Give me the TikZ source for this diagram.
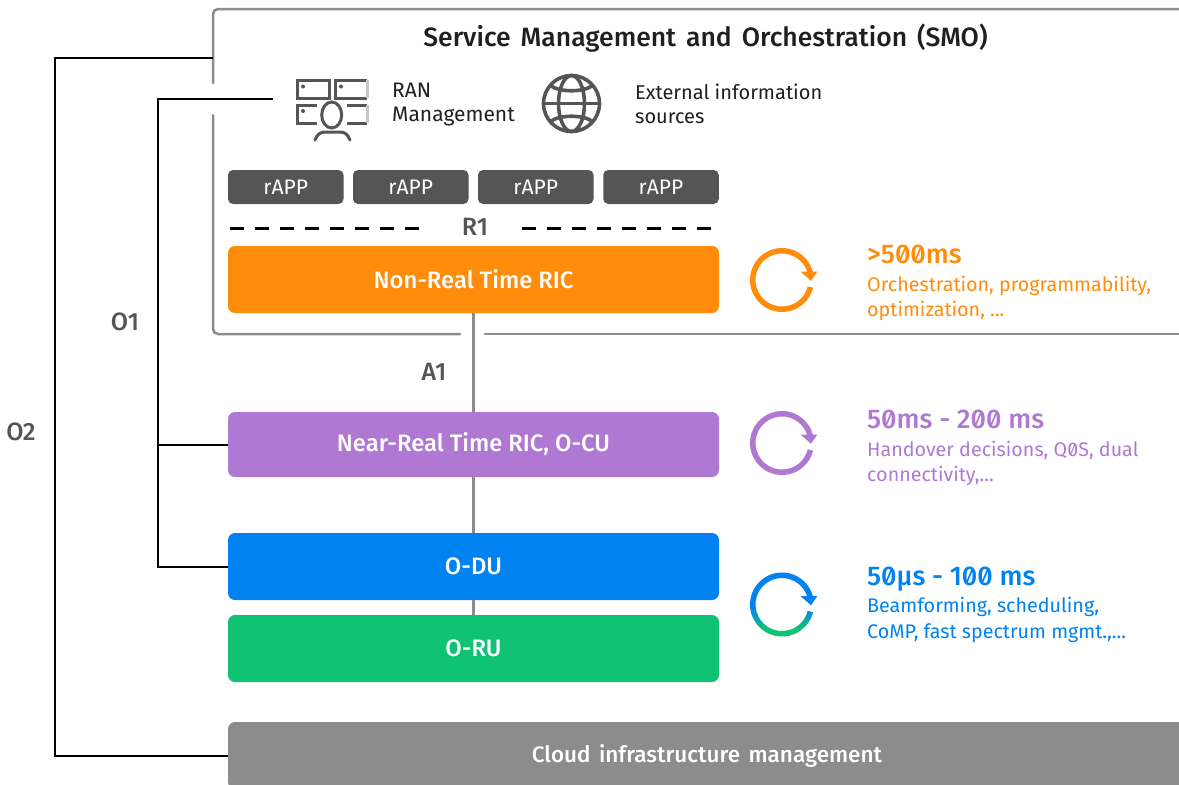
\documentclass[tikz,border=0pt]{standalone}
\usepackage{fontspec}
\setmainfont{Fira Sans Light}[BoldFont={Fira Sans Medium}]
\newfontfamily\medf{Fira Sans Medium}[RawFeature=+zero]
\newfontfamily\widef{Fira Sans Medium}[WordSpace=1.5]
\newfontfamily\regf{Fira Sans}[RawFeature=+zero]
\definecolor{corange}{HTML}{FF8C0A}
\definecolor{cpurple}{HTML}{AF78D2}
\definecolor{cblue}{HTML}{0082F0}
\definecolor{cgreen}{HTML}{0FC373}
\definecolor{cgray}{HTML}{8C8C8C}
\definecolor{cdark}{HTML}{555555}
\definecolor{ctext}{HTML}{1F1F1F}
\newcommand\fsz[1]{\fontsize{#1}{#1}\selectfont}
\newcommand\lowr[1]{\raisebox{-1.5pt}{#1}}
\pgfdeclareverticalshading{ringblue}{100bp}{color(0bp)=(cgreen); color(33bp)=(cgreen); color(48bp)=(cblue); color(100bp)=(cblue)}
\tikzset{
  layerbox/.style={fill=#1,rounded corners=7pt,minimum width=491pt,minimum height=67pt,inner sep=0pt,text=white,font=\medf\fsz{23.8}},
  appbox/.style={fill=cdark,rounded corners=5pt,minimum width=115.5pt,minimum height=34pt,inner sep=0pt,text=white,font=\regf\fsz{21}},
  iflabel/.style={text=cdark,inner sep=0pt,font=\medf\fsz{25}},
  wire/.style={black,line width=2pt},
  link/.style={cgray,line width=3.5pt},
  frameline/.style={cgray,line width=2.5pt,line cap=round},
  iconline/.style={cdark,line width=3pt},
  headtxt/.style={anchor=base west,inner sep=0pt,font=\medf\fsz{27}},
  desctxt/.style={anchor=base west,inner sep=0pt,font=\regf\fsz{19.7}},
  plaintxt/.style={anchor=base west,inner sep=0pt,text=ctext,font=\regf\fsz{20}},
}
% ring with a clockwise arrow: centre x, centre y, head colour, ring paint
\newcommand\cycmark[4]{%
  \begin{scope}[shift={(#1,#2)}]
    \path[#4]
      (-14:32) arc[start angle=-14,end angle=-345,radius=32]
      -- (-345:26.5) arc[start angle=-345,end angle=-14,radius=26.5] -- cycle;
    \fill[#3] (18.7,8.3) -- (35.3,8.3) -- (29,-0.7) -- cycle;
  \end{scope}}
\begin{document}
\begin{tikzpicture}[x=1pt,y=1pt]
\useasboundingbox (0,0) rectangle (1179,-785);
\clip (0,0) rectangle (1179,-785);

% SMO frame, with its gaps for the O1 and A1 lines
\draw[frameline,rounded corners=5pt] (213,-83) -- (213,-9) -- (1195,-9);
\draw[frameline,rounded corners=5pt] (213,-115) -- (213,-334) -- (460,-334);
\draw[frameline] (485,-334) -- (1195,-334);
\coordinate (smoW) at (213,-58);
\node[anchor=base,inner sep=0pt,text=ctext,font=\widef\fsz{26.5}] (smo) at (705.5,-46) {Service Management and Orchestration (SMO)};

% RAN management icon
\draw[iconline] (297,-80) rectangle (329,-98);
\draw[iconline] (367,-98) -- (335,-98) -- (335,-80) -- (367,-80);
\draw[cgray!50,line width=3pt] (367,-80) -- (367,-98);
\fill[cdark] (303,-86.5) circle (2);
\fill[cdark] (341,-86.5) circle (2);
\fill[cdark] (303,-111) circle (2);
\draw[iconline] (317,-105) -- (297,-105) -- (297,-123) -- (317,-123);
\draw[iconline] (347,-105) -- (367,-105);
\draw[iconline] (347,-123) -- (367,-123);
\draw[cgray!50,line width=3pt] (367,-105) -- (367,-123);
\draw[iconline] (331.7,-115) ellipse[x radius=10,y radius=13];
\draw[iconline,line cap=round] (315,-140) .. controls (317,-134) and (321,-132) .. (325,-132) -- (340,-132) .. controls (344,-132) and (348,-134) .. (350,-140);
\coordinate (ranIcon) at (273,-99);
\node[plaintxt,font=\regf\fsz{21}] (ranlabela) at (392,-97) {RAN};
\node[plaintxt,font=\regf\fsz{21}] (ranlabelb) at (392,-121) {Management};

% globe icon
\begin{scope}[shift={(571.5,-103.5)},iconline/.append style={line width=3.6pt}]
  \draw[iconline] (0,0) circle (28);
  \draw[iconline] (0,0) ellipse[x radius=13,y radius=28];
  \draw[iconline] (-28,0) -- (28,0);
  \draw[iconline] (-21,18) .. controls (-12,11) and (12,11) .. (21,18);
  \draw[iconline] (-21,-18) .. controls (-12,-11) and (12,-11) .. (21,-18);
\end{scope}
\node[plaintxt] (extlabela) at (635,-99) {External information};
\node[plaintxt] (extlabelb) at (635,-123) {sources};

% rApps
\node[appbox] (app1) at (285.75,-187) {\raisebox{-1pt}{rAPP}};
\node[appbox] (app2) at (410.75,-187) {\raisebox{-1pt}{rAPP}};
\node[appbox] (app3) at (535.75,-187) {\raisebox{-1pt}{rAPP}};
\node[appbox] (app4) at (661,-187) {\raisebox{-1pt}{rAPP}};

% R1
\node[iflabel] (r1) at (475,-227) {R1};
\coordinate (r1a) at (230,-228);
\coordinate (r1b) at (522,-228);
\draw[black,line width=3pt,dash pattern=on 14pt off 11pt] (r1a) -- ++(190,0);
\draw[black,line width=3pt,dash pattern=on 14pt off 11pt] (r1b) -- ++(189,0);

% layers
\node[layerbox=corange] (nrt) at (473.5,-279.5) {\lowr{Non-Real Time RIC}};
\node[layerbox=cpurple,minimum height=65pt] (nearrt) at (473.5,-444.5) {\raisebox{-2.5pt}{Near-Real Time RIC, O-CU}};
\node[layerbox=cblue] (odu) at (473.5,-566.5) {\lowr{O-DU}};
\node[layerbox=cgreen] (oru) at (473.5,-648.5) {\lowr{O-RU}};
\node[layerbox=cgray,minimum width=958pt,font=\widef\fsz{22.5}] (cloud) at (707,-755.5) {\lowr{Cloud infrastructure management}};

% links between layers
\draw[link] (nrt) -- (nearrt);
\draw[link] (nearrt) -- (odu);
\draw[link] (odu) -- (oru);
\node[iflabel] (a1) at (434,-372) {A1};

% O1
\coordinate (o1bus) at (158,-99);
\draw[wire] (ranIcon) -- (o1bus) -- (o1bus |- odu.west) -- (odu.west);
\draw[wire] (o1bus |- nearrt.west) -- (nearrt.west);
\node[iflabel] (o1) at (125,-322) {O1};

% O2
\coordinate (o2bus) at (55,-58);
\draw[wire] (smoW) -- (o2bus) -- (o2bus |- cloud.west) -- (cloud.west);
\node[iflabel] (o2) at (21,-432) {O2};

% timing loops
\cycmark{782}{-280}{corange}{fill=corange}
\cycmark{782}{-443}{cpurple}{fill=cpurple}
\cycmark{782}{-604.5}{cblue}{shade,shading=ringblue}

\node[headtxt,text=corange] (t1) at (867,-263.5) {>500ms};
\node[desctxt,text=corange] (d1a) at (867,-291) {Orchestration, programmability,};
\node[desctxt,text=corange] (d1b) at (867,-316) {optimization, ...};
\node[headtxt,text=cpurple] (t2) at (867,-428.5) {50ms - 200 ms};
\node[desctxt,text=cpurple] (d2a) at (867,-456) {Handover decisions, Q0S, dual};
\node[desctxt,text=cpurple] (d2b) at (867,-481) {connectivity,...};
\node[headtxt,text=cblue] (t3) at (867,-585) {50µs - 100 ms};
\node[desctxt,text=cblue] (d3a) at (867,-612.5) {Beamforming, scheduling,};
\node[desctxt,text=cblue] (d3b) at (867,-638) {CoMP, fast spectrum mgmt.,...};
\end{tikzpicture}
\end{document}
